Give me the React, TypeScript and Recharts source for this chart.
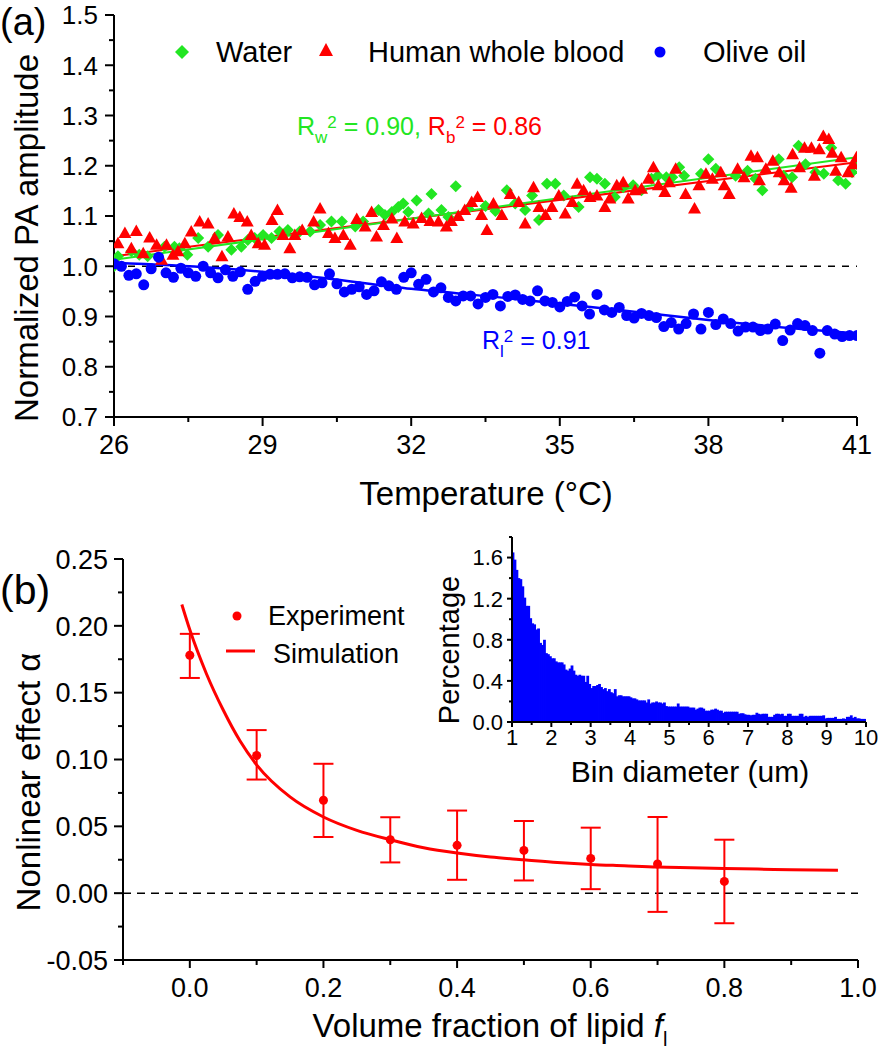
import React from 'react';
import { ComposedChart, Scatter, Line, Bar, XAxis, YAxis, ReferenceLine, ErrorBar } from 'recharts';

const FONT = '"Liberation Sans", Arial, Helvetica, sans-serif';
const GREEN = '#22e622';
const RED = '#ff0000';
const BLUE = '#0000ff';

// ---------- panel (a): temperature dependence ----------
const OIL_T = [
  26.0, 26.15, 26.3, 26.45, 26.6, 26.75, 26.9, 27.05, 27.2, 27.35,
  27.5, 27.65, 27.8, 27.95, 28.1, 28.25, 28.4, 28.55, 28.7, 28.85,
  29.0, 29.15, 29.3, 29.45, 29.6, 29.75, 29.9, 30.05, 30.2, 30.35,
  30.5, 30.65, 30.8, 30.95, 31.1, 31.25, 31.4, 31.55, 31.7, 31.85,
  32.0, 32.15, 32.3, 32.45, 32.6, 32.75, 32.9, 33.05, 33.2, 33.35,
  33.5, 33.65, 33.8, 33.95, 34.1, 34.25, 34.4, 34.55, 34.7, 34.85,
  35.0, 35.15, 35.3, 35.45, 35.6, 35.75, 35.9, 36.05, 36.2, 36.35,
  36.5, 36.65, 36.8, 36.95, 37.1, 37.25, 37.4, 37.55, 37.7, 37.85,
  38.0, 38.15, 38.3, 38.45, 38.6, 38.75, 38.9, 39.05, 39.2, 39.35,
  39.5, 39.65, 39.8, 39.95, 40.1, 40.25, 40.4, 40.55, 40.7, 40.85,
  41.0,
];
const OIL_V = [
  1.005, 1.0, 0.982, 0.985, 0.963, 0.995, 1.018, 0.987, 0.978, 0.996,
  0.987, 0.98, 1.0, 0.987, 0.977, 0.993, 0.98, 0.989, 0.954, 0.97,
  0.98, 0.984, 0.984, 0.985, 0.977, 0.979, 0.978, 0.963, 0.967, 0.985,
  0.965, 0.949, 0.954, 0.959, 0.944, 0.951, 0.969, 0.961, 0.954, 0.978,
  0.987, 0.964, 0.974, 0.949, 0.957, 0.938, 0.931, 0.941, 0.941, 0.925,
  0.938, 0.944, 0.921, 0.94, 0.943, 0.934, 0.931, 0.951, 0.931, 0.928,
  0.919, 0.93, 0.939, 0.921, 0.905, 0.944, 0.913, 0.908, 0.918, 0.902,
  0.897, 0.906, 0.902, 0.898, 0.88, 0.888, 0.875, 0.886, 0.905, 0.875,
  0.908, 0.884, 0.895, 0.886, 0.871, 0.879, 0.879, 0.872, 0.875, 0.885,
  0.852, 0.873, 0.886, 0.882, 0.872, 0.827, 0.872, 0.865, 0.86, 0.862,
  0.862,
];

const BLOOD_T = [
  26.08, 26.22, 26.35, 26.45, 26.59, 26.72, 26.86, 26.96, 27.06, 27.19,
  27.29, 27.43, 27.56, 27.73, 27.9, 28.03, 28.18, 28.3, 28.42, 28.54,
  28.69, 28.77, 28.91, 29.04, 29.19, 29.3, 29.41, 29.55, 29.65, 29.8,
  30.03, 30.16, 30.33, 30.46, 30.63, 30.77, 30.9, 31.07, 31.2, 31.3,
  31.44, 31.61, 31.71, 31.87, 32.04, 32.21, 32.38, 32.55, 32.71, 32.81,
  32.95, 33.08, 33.22, 33.34, 33.42, 33.53, 33.66, 33.83, 34.0, 34.17,
  34.3, 34.47, 34.58, 34.71, 34.84, 34.98, 35.11, 35.25, 35.35, 35.48,
  35.61, 35.75, 35.91, 36.01, 36.15, 36.28, 36.38, 36.52, 36.65, 36.79,
  36.89, 36.99, 37.12, 37.21, 37.34, 37.54, 37.72, 37.81, 37.95, 38.08,
  38.25, 38.32, 38.42, 38.59, 38.72, 38.86, 38.99, 39.03, 39.16, 39.3,
  39.43, 39.53, 39.67, 39.7, 39.84, 39.94, 40.08, 40.14, 40.24, 40.32,
  40.43, 40.5, 40.57, 40.68, 40.82, 40.92, 40.99,
];
const BLOOD_V = [
  1.046, 1.066, 1.036, 1.07, 1.026, 1.057, 1.043, 1.013, 1.043, 1.023,
  1.03, 1.046, 1.069, 1.089, 1.085, 1.056, 1.02, 1.059, 1.105, 1.098,
  1.089, 1.062, 1.046, 1.043, 1.092, 1.112, 1.062, 1.036, 1.062, 1.072,
  1.089, 1.115, 1.066, 1.056, 1.062, 1.043, 1.094, 1.079, 1.108, 1.059,
  1.082, 1.095, 1.056, 1.089, 1.085, 1.096, 1.09, 1.089, 1.079, 1.09,
  1.1, 1.112, 1.128, 1.138, 1.102, 1.072, 1.125, 1.102, 1.144, 1.128,
  1.085, 1.157, 1.118, 1.102, 1.118, 1.141, 1.105, 1.128, 1.164, 1.151,
  1.138, 1.141, 1.118, 1.135, 1.161, 1.167, 1.135, 1.151, 1.154, 1.174,
  1.197, 1.161, 1.148, 1.167, 1.194, 1.144, 1.115, 1.161, 1.184, 1.174,
  1.187, 1.161, 1.144, 1.194, 1.177, 1.22, 1.217, 1.171, 1.194, 1.21,
  1.187, 1.171, 1.156, 1.223, 1.197, 1.236, 1.236, 1.18, 1.233, 1.259,
  1.253, 1.226, 1.19, 1.217, 1.187, 1.203, 1.217,
];

const WATER_T = [
  26.0, 26.08, 26.35, 26.51, 26.68, 27.02, 27.22, 27.32, 27.48, 27.7,
  27.9, 28.1, 28.37, 28.57, 28.7, 28.84, 29.01, 29.18, 29.34, 29.51,
  29.75, 29.96, 30.16, 30.39, 30.6, 30.87, 31.03, 31.34, 31.47, 31.61,
  31.74, 31.84, 31.94, 32.11, 32.35, 32.41, 32.61, 32.75, 32.9, 33.15,
  33.5, 33.7, 33.93, 34.1, 34.3, 34.44, 34.58, 34.74, 34.91, 35.08,
  35.38, 35.61, 35.75, 35.91, 36.11, 36.28, 36.48, 36.65, 36.85, 36.98,
  37.15, 37.27, 37.41, 37.51, 37.85, 38.0, 38.15, 38.55, 38.79, 38.95,
  39.09, 39.42, 39.52, 39.69, 39.82, 39.96, 40.16, 40.33, 40.48, 40.62,
  40.77, 40.9, 41.0,
];
const WATER_V = [
  1.0, 1.02, 1.03, 1.023, 1.02, 1.039, 1.039, 1.036, 1.023, 1.056,
  1.039, 1.062, 1.033, 1.039, 1.052, 1.056, 1.062, 1.056, 1.069, 1.072,
  1.069, 1.069, 1.082, 1.089, 1.089, 1.079, 1.089, 1.112, 1.102, 1.108,
  1.118, 1.125, 1.108, 1.131, 1.105, 1.144, 1.112, 1.098, 1.159, 1.115,
  1.12, 1.11, 1.151, 1.125, 1.112, 1.141, 1.092, 1.164, 1.164, 1.141,
  1.118, 1.177, 1.174, 1.164, 1.138, 1.157, 1.161, 1.151, 1.174, 1.18,
  1.177, 1.177, 1.197, 1.18, 1.184, 1.213, 1.194, 1.18, 1.19, 1.174,
  1.151, 1.213, 1.18, 1.177, 1.24, 1.203, 1.187, 1.184, 1.236, 1.171,
  1.164, 1.187, 1.203,
];

// fitted lines
const WATER_FIT_T = [26, 41];
const WATER_FIT_V = [1.013, 1.217];
const BLOOD_FIT_T = [26, 41];
const BLOOD_FIT_V = [1.02, 1.207];
const OIL_FIT_T = [26, 28, 30, 32, 34, 36, 38, 40, 41];
const OIL_FIT_V = [1.007, 0.997, 0.979, 0.955, 0.936, 0.915, 0.893, 0.874, 0.866];

const A_X_TICKS = [26, 27.5, 29, 30.5, 32, 33.5, 35, 36.5, 38, 39.5, 41];
const A_X_MAJOR = [26, 29, 32, 35, 38, 41];
const A_Y_TICKS = [0.7, 0.75, 0.8, 0.85, 0.9, 0.95, 1.0, 1.05, 1.1, 1.15, 1.2, 1.25, 1.3, 1.35, 1.4, 1.45, 1.5];
const A_Y_MAJOR = [0.7, 0.8, 0.9, 1.0, 1.1, 1.2, 1.3, 1.4, 1.5];

// ---------- panel (b): nonlinear effect ----------
const LIPID_F = [0.0, 0.1, 0.2, 0.3, 0.4, 0.5, 0.6, 0.7, 0.8];
const ALPHA = [0.178, 0.103, 0.0695, 0.04, 0.0358, 0.032, 0.026, 0.0218, 0.0088];
const ALPHA_ERR_LOW = [0.017, 0.018, 0.0275, 0.017, 0.0258, 0.0225, 0.023, 0.0358, 0.0313];
const ALPHA_ERR_HIGH = [0.016, 0.019, 0.0273, 0.0168, 0.026, 0.022, 0.023, 0.0352, 0.0312];

const SIM_F = [-0.012, 0.0, 0.025, 0.05, 0.075, 0.1, 0.15, 0.2, 0.25, 0.3, 0.35, 0.4, 0.45, 0.5, 0.55, 0.6, 0.65, 0.7, 0.75, 0.8, 0.85, 0.9, 0.97];
const SIM_ALPHA = [0.216, 0.197, 0.164, 0.137, 0.114, 0.096, 0.072, 0.057, 0.047, 0.04, 0.034, 0.03, 0.027, 0.025, 0.023, 0.0215, 0.0205, 0.0195, 0.019, 0.0185, 0.018, 0.0175, 0.0172];

const B_X_TICKS = [-0.1, 0, 0.1, 0.2, 0.3, 0.4, 0.5, 0.6, 0.7, 0.8, 0.9, 1.0];
const B_X_MAJOR = [0, 0.2, 0.4, 0.6, 0.8, 1.0];
const B_Y_TICKS = [-0.05, -0.025, 0, 0.025, 0.05, 0.075, 0.1, 0.125, 0.15, 0.175, 0.2, 0.225, 0.25];
const B_Y_MAJOR = [-0.05, 0, 0.05, 0.1, 0.15, 0.2, 0.25];

// ---------- inset: size distribution (bins of 0.05 um from 1 um) ----------
const BIN_START = 1;
const BIN_WIDTH = 0.05;
const HIST = [
  1.65, 1.58, 1.48, 1.4, 1.39, 1.32, 1.21, 1.13, 1.13, 1.01,
  0.96, 0.95, 0.9, 0.91, 0.77, 0.75, 0.8, 0.67, 0.66, 0.64,
  0.62, 0.62, 0.59, 0.58, 0.58, 0.58, 0.56, 0.51, 0.5, 0.52,
  0.55, 0.5, 0.46, 0.45, 0.46, 0.45, 0.45, 0.39, 0.45, 0.37,
  0.33, 0.35, 0.35, 0.36, 0.37, 0.34, 0.32, 0.33, 0.3, 0.32,
  0.29, 0.28, 0.32, 0.25, 0.26, 0.26, 0.25, 0.25, 0.25, 0.25,
  0.24, 0.23, 0.23, 0.22, 0.21, 0.21, 0.21, 0.21, 0.19, 0.22,
  0.18, 0.19, 0.19, 0.2, 0.19, 0.19, 0.18, 0.19, 0.155, 0.15,
  0.15, 0.15, 0.15, 0.15, 0.18, 0.15, 0.15, 0.15, 0.15, 0.15,
  0.14, 0.14, 0.14, 0.12, 0.13, 0.14, 0.14, 0.13, 0.11, 0.11,
  0.11, 0.12, 0.12, 0.13, 0.12, 0.11, 0.11, 0.09, 0.1, 0.1,
  0.1, 0.1, 0.1, 0.1, 0.1, 0.08, 0.085, 0.085, 0.075, 0.07,
  0.07, 0.065, 0.07, 0.07, 0.09, 0.08, 0.075, 0.08, 0.08, 0.08,
  0.05, 0.05, 0.05, 0.07, 0.08, 0.08, 0.075, 0.08, 0.06, 0.06,
  0.08, 0.08, 0.06, 0.06, 0.06, 0.06, 0.08, 0.08, 0.05, 0.06,
  0.05, 0.06, 0.06, 0.06, 0.06, 0.06, 0.06, 0.06, 0.065, 0.035,
  0.04, 0.04, 0.04, 0.04, 0.05, 0.03, 0.03, 0.03, 0.035, 0.03,
  0.05, 0.05, 0.065, 0.04, 0.05, 0.035, 0.035, 0.03, 0.03, 0.03,
];
const I_X_TICKS = [1, 1.5, 2, 2.5, 3, 3.5, 4, 4.5, 5, 5.5, 6, 6.5, 7, 7.5, 8, 8.5, 9, 9.5, 10];
const I_X_MAJOR = [1, 2, 3, 4, 5, 6, 7, 8, 9, 10];
const I_Y_TICKS = [0, 0.2, 0.4, 0.6, 0.8, 1.0, 1.2, 1.4, 1.6, 1.8];
const I_Y_MAJOR = [0, 0.4, 0.8, 1.2, 1.6];

const pairs = (xs: number[], ys: number[]) => xs.map((x, i) => ({ x, y: ys[i] }));
const oilData = pairs(OIL_T, OIL_V);
const bloodData = pairs(BLOOD_T, BLOOD_V);
const waterData = pairs(WATER_T, WATER_V);
const waterFit = pairs(WATER_FIT_T, WATER_FIT_V);
const bloodFit = pairs(BLOOD_FIT_T, BLOOD_FIT_V);
const oilFit = pairs(OIL_FIT_T, OIL_FIT_V);
const expData = LIPID_F.map((x, i) => ({ x, y: ALPHA[i], err: [ALPHA_ERR_LOW[i], ALPHA_ERR_HIGH[i]] }));
const simData = pairs(SIM_F, SIM_ALPHA);
const histData = HIST.map((y, i) => ({ x: BIN_START + (i + 0.5) * BIN_WIDTH, y }));

const isIn = (list: number[], v: number) => list.some((m) => Math.abs(m - v) < 1e-9);

const xTick = (majors: number[], fmt: (v: number) => string, fs: number, majLen: number, minLen: number, base: number) =>
  (props: any) => {
    const { x, y, payload } = props;
    const major = isIn(majors, payload.value);
    return (
      <g>
        <line x1={x} x2={x} y1={y} y2={y + (major ? majLen : minLen)} stroke="#000" strokeWidth={2} />
        {major && (
          <text x={x} y={y + base} textAnchor="middle" fontSize={fs} fontFamily={FONT} fill="#000">
            {fmt(payload.value)}
          </text>
        )}
      </g>
    );
  };

const yTick = (majors: number[], fmt: (v: number) => string, fs: number, majLen: number, minLen: number, gap: number) =>
  (props: any) => {
    const { x, y, payload } = props;
    const major = isIn(majors, payload.value);
    return (
      <g>
        <line x1={x - (major ? majLen : minLen)} x2={x} y1={y} y2={y} stroke="#000" strokeWidth={2} />
        {major && (
          <text x={x - majLen - gap} y={y + fs * 0.36} textAnchor="end" fontSize={fs} fontFamily={FONT} fill="#000">
            {fmt(payload.value)}
          </text>
        )}
      </g>
    );
  };

const Diamond = (p: any) => (
  <polygon points={`${p.cx},${p.cy - 6} ${p.cx + 6},${p.cy} ${p.cx},${p.cy + 6} ${p.cx - 6},${p.cy}`} fill={GREEN} />
);
const Triangle = (p: any) => (
  <polygon points={`${p.cx},${p.cy - 6.5} ${p.cx + 6.5},${p.cy + 5} ${p.cx - 6.5},${p.cy + 5}`} fill={RED} />
);
const Dot = (color: string, r: number) => (p: any) => <circle cx={p.cx} cy={p.cy} r={r} fill={color} />;

// histogram bars slightly widened so neighbouring bins touch without seams
const HistBar = (p: any) =>
  p.height > 0 ? <rect x={p.x - 0.4} y={p.y} width={p.width + 0.8} height={p.height} fill={BLUE} /> : <g />;

const axisLine = { stroke: '#000', strokeWidth: 2 };

const PanelA = () => (
  <ComposedChart width={880} height={480} margin={{ top: 15, right: 23, bottom: 0, left: 0 }}>
    <XAxis type="number" dataKey="x" domain={[26, 41]} ticks={A_X_TICKS} interval={0} height={63}
      axisLine={axisLine} tickLine={false} tickSize={0} tickMargin={0}
      tick={xTick(A_X_MAJOR, (v) => String(v), 27, 9, 5, 37)} allowDataOverflow />
    <YAxis type="number" domain={[0.7, 1.5]} ticks={A_Y_TICKS} interval={0} width={114}
      axisLine={axisLine} tickLine={false} tickSize={0} tickMargin={0}
      tick={yTick(A_Y_MAJOR, (v) => v.toFixed(1), 26, 9, 5, 7)} allowDataOverflow />
    <ReferenceLine y={1} stroke="#000" strokeWidth={1.5} strokeDasharray="7 7" />
    <Scatter data={waterData} dataKey="y" shape={Diamond} isAnimationActive={false} />
    <Scatter data={bloodData} dataKey="y" shape={Triangle} isAnimationActive={false} />
    <Scatter data={oilData} dataKey="y" shape={Dot(BLUE, 5.5)} isAnimationActive={false} />
    <Line data={bloodFit} dataKey="y" stroke={RED} strokeWidth={2} dot={false} isAnimationActive={false} />
    <Line data={waterFit} dataKey="y" stroke={GREEN} strokeWidth={2} dot={false} isAnimationActive={false} />
    <Line data={oilFit} dataKey="y" type="monotone" stroke={BLUE} strokeWidth={2.5} dot={false} isAnimationActive={false} />
  </ComposedChart>
);

const PanelB = () => (
  <ComposedChart width={880} height={530} margin={{ top: 39, right: 22, bottom: 0, left: 0 }}>
    <XAxis type="number" dataKey="x" domain={[-0.1, 1.0]} ticks={B_X_TICKS} interval={0} height={90}
      axisLine={axisLine} tickLine={false} tickSize={0} tickMargin={0}
      tick={xTick(B_X_MAJOR, (v) => v.toFixed(1), 27, 8, 5, 37)} allowDataOverflow />
    <YAxis type="number" domain={[-0.05, 0.25]} ticks={B_Y_TICKS} interval={0} width={123}
      axisLine={axisLine} tickLine={false} tickSize={0} tickMargin={0}
      tick={yTick(B_Y_MAJOR, (v) => v.toFixed(2), 27, 9, 5, 6)} allowDataOverflow />
    <ReferenceLine y={0} stroke="#000" strokeWidth={1.5} strokeDasharray="8 6" />
    <Line data={simData} dataKey="y" type="monotone" stroke={RED} strokeWidth={3} dot={false} isAnimationActive={false} />
    <Scatter data={expData} dataKey="y" shape={Dot(RED, 4.5)} isAnimationActive={false}>
      <ErrorBar dataKey="err" direction="y" width={10} stroke={RED} strokeWidth={2} />
    </Scatter>
  </ComposedChart>
);

const Inset = () => (
  <ComposedChart width={480} height={260} data={histData} barCategoryGap={0} margin={{ top: 17, right: 14, bottom: 0, left: 0 }}>
    <XAxis type="number" dataKey="x" domain={[1, 10]} ticks={I_X_TICKS} interval={0} height={58}
      axisLine={axisLine} tickLine={false} tickSize={0} tickMargin={0}
      tick={xTick(I_X_MAJOR, (v) => String(v), 22, 5, 3, 23)} allowDataOverflow />
    <YAxis type="number" domain={[0, 1.8]} ticks={I_Y_TICKS} interval={0} width={112}
      axisLine={axisLine} tickLine={false} tickSize={0} tickMargin={0}
      tick={yTick(I_Y_MAJOR, (v) => v.toFixed(1), 22, 5, 3, 4)} allowDataOverflow />
    <Bar dataKey="y" fill={BLUE} shape={HistBar} isAnimationActive={false} />
  </ComposedChart>
);

const txt = { fontFamily: FONT, fill: '#000' } as const;

const Overlay = () => (
  <svg width={880} height={1050} style={{ position: 'absolute', left: 0, top: 0, pointerEvents: 'none' }}>
    {/* panel labels */}
    <text x={0} y={35} fontSize={38} {...txt}>(a)</text>
    <text x={0} y={604} fontSize={41} {...txt}>(b)</text>

    {/* panel (a) titles */}
    <text transform="rotate(-90 38 238)" x={38} y={238} textAnchor="middle" fontSize={33} {...txt}>Normalized PA amplitude</text>
    <text x={486} y={505} textAnchor="middle" fontSize={33} {...txt}>Temperature (°C)</text>

    {/* panel (a) legend */}
    <polygon points="182,45 189,52 182,59 175,52" fill={GREEN} />
    <text x={216} y={62} fontSize={29} {...txt}>Water</text>
    <polygon points="326,43 333,56 319,56" fill={RED} />
    <text x={368} y={62} fontSize={29} {...txt}>Human whole blood</text>
    <circle cx={660} cy={52} r={5.5} fill={BLUE} />
    <text x={703} y={62} fontSize={29} {...txt}>Olive oil</text>

    {/* panel (a) annotations */}
    <text x={297} y={135} fontSize={25} fontFamily={FONT}>
      <tspan fill={GREEN}>R</tspan>
      <tspan fill={GREEN} fontSize={17} dy={8}>w</tspan>
      <tspan fill={GREEN} fontSize={17} dy={-15}>2</tspan>
      <tspan fill={GREEN} dy={7}> = 0.90, </tspan>
      <tspan fill={RED}>R</tspan>
      <tspan fill={RED} fontSize={17} dy={8}>b</tspan>
      <tspan fill={RED} fontSize={17} dy={-15}>2</tspan>
      <tspan fill={RED} dy={7}> = 0.86</tspan>
    </text>
    <text x={482} y={349} fontSize={25} fontFamily={FONT} fill={BLUE}>
      <tspan>R</tspan>
      <tspan fontSize={17} dy={8}>l</tspan>
      <tspan fontSize={17} dy={-15}>2</tspan>
      <tspan dy={7}> = 0.91</tspan>
    </text>

    {/* panel (b) titles */}
    <text transform="rotate(-90 40 782)" x={40} y={782} textAnchor="middle" fontSize={33} {...txt}>Nonlinear effect α</text>
    <text x={490} y={1037} textAnchor="middle" fontSize={33} {...txt}>
      <tspan>Volume fraction of lipid </tspan>
      <tspan fontStyle="italic">f</tspan>
      <tspan fontSize={20} dy={9}>l</tspan>
    </text>

    {/* panel (b) legend */}
    <circle cx={237} cy={616} r={4.5} fill={RED} />
    <text x={268} y={625} fontSize={27} {...txt}>Experiment</text>
    <line x1={226} x2={255} y1={651} y2={651} stroke={RED} strokeWidth={3} />
    <text x={273} y={663} fontSize={27} {...txt}>Simulation</text>

    {/* inset titles */}
    <text transform="rotate(-90 459 650)" x={459} y={650} textAnchor="middle" fontSize={29} {...txt}>Percentage</text>
    <text x={690} y={782} textAnchor="middle" fontSize={30} {...txt}>Bin diameter (um)</text>
  </svg>
);

export default function App() {
  return (
    <div style={{ position: 'absolute', left: 0, top: 0, width: 880, height: 1050, background: '#fff' }}>
      <div style={{ position: 'absolute', left: 0, top: 0 }}>
        <PanelA />
      </div>
      <div style={{ position: 'absolute', left: 0, top: 520 }}>
        <PanelB />
      </div>
      <div style={{ position: 'absolute', left: 400, top: 520 }}>
        <Inset />
      </div>
      <Overlay />
    </div>
  );
}
